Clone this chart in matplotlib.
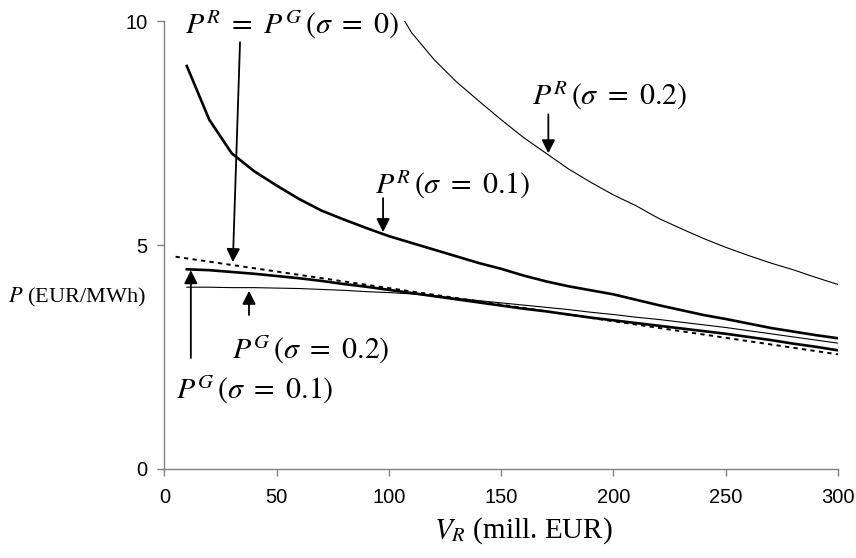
import matplotlib
matplotlib.use("Agg")
import matplotlib.pyplot as plt

plt.rcParams["mathtext.fontset"] = "stix"
plt.rcParams["font.family"] = "Liberation Sans"
plt.rcParams["xtick.labelsize"] = 14.5
plt.rcParams["ytick.labelsize"] = 14.5

# ── data ───────────────────────────────────────────────────────────────────
v_r = [10, 20, 30, 40, 50, 60, 70, 80, 90, 100,
       110, 120, 130, 140, 150, 160, 170, 180, 190, 200,
       210, 220, 230, 240, 250, 260, 270, 280, 290, 300]

pr_s01 = [9.00, 7.80, 7.05, 6.65, 6.33, 6.03, 5.77, 5.57, 5.38, 5.20,
          5.05, 4.90, 4.75, 4.60, 4.47, 4.32, 4.19, 4.08, 3.99, 3.90,
          3.78, 3.66, 3.55, 3.44, 3.35, 3.25, 3.15, 3.07, 2.99, 2.92]

pg_s01 = [4.46, 4.44, 4.40, 4.36, 4.31, 4.26, 4.20, 4.13, 4.07, 4.00,
          3.93, 3.86, 3.79, 3.72, 3.65, 3.58, 3.52, 3.45, 3.38, 3.32,
          3.26, 3.20, 3.14, 3.08, 3.02, 2.95, 2.88, 2.80, 2.73, 2.65]

pg_s02 = [4.06, 4.06, 4.05, 4.05, 4.04, 4.03, 4.01, 3.99, 3.96, 3.94,
          3.91, 3.87, 3.81, 3.76, 3.71, 3.66, 3.61, 3.56, 3.50, 3.45,
          3.39, 3.34, 3.28, 3.22, 3.16, 3.09, 3.02, 2.95, 2.88, 2.81]

v_r_hi = [100, 110, 120, 130, 140, 150, 160, 170, 180, 190, 200,
          210, 220, 230, 240, 250, 260, 270, 280, 290, 300]
pr_s02 = [10.60, 9.75, 9.15, 8.65, 8.22, 7.80, 7.40, 7.05, 6.70, 6.40, 6.12,
          5.88, 5.60, 5.37, 5.15, 4.95, 4.77, 4.60, 4.45, 4.28, 4.12]

v_r_0 = [5, 50, 100, 150, 200, 250, 300]
p_s0 = [4.74, 4.41, 4.04, 3.67, 3.30, 2.93, 2.56]

x_ticks = [0, 50, 100, 150, 200, 250, 300]
y_ticks = [0, 5, 10]

# ── figure ─────────────────────────────────────────────────────────────────
fig = plt.figure(figsize=(8.56, 5.58), dpi=100)
ax = fig.add_axes([0.192, 0.1595, 0.787, 0.8025])

ax.plot(v_r_0, p_s0, color="black", lw=1.4, ls=(0, (2.2, 2.2)))
ax.plot(v_r, pg_s02, color="black", lw=0.8)
ax.plot(v_r, pg_s01, color="black", lw=1.9)
ax.plot(v_r, pr_s01, color="black", lw=1.9)
ax.plot(v_r_hi, pr_s02, color="black", lw=0.8)

ax.set_xlim(0, 300)
ax.set_ylim(0, 10)
ax.set_xticks(x_ticks)
ax.set_yticks(y_ticks)

for side in ("top", "right"):
    ax.spines[side].set_visible(False)
for side in ("left", "bottom"):
    ax.spines[side].set_color("#808080")
    ax.spines[side].set_linewidth(1.0)
ax.tick_params(axis="both", colors="#808080", labelcolor="black",
               length=5, width=1.0)
ax.tick_params(axis="x", pad=9)
ax.tick_params(axis="y", pad=7)

# ── annotations ────────────────────────────────────────────────────────────
txt_kw = dict(fontsize=21.5, ha="left", va="baseline", family="Liberation Serif")
ax.text(9.1, 9.73, r"$P^{R}\ =\ P^{G}\,(\sigma\ =\ 0)$", **txt_kw)
ax.text(93.8, 6.16, r"$P^{R}\,(\sigma\ =\ 0.1)$", **txt_kw)
ax.text(163.9, 8.13, r"$P^{R}\,(\sigma\ =\ 0.2)$", **txt_kw)
ax.text(30.1, 2.46, r"$P^{G}\,(\sigma\ =\ 0.2)$", **txt_kw)
ax.text(5.1, 1.58, r"$P^{G}\,(\sigma\ =\ 0.1)$", **txt_kw)

arr = dict(arrowstyle="-|>", color="black", lw=1.3, mutation_scale=20,
           shrinkA=0, shrinkB=0)
arrows = [((33.7, 9.53), (30.5, 4.62)),
          ((97.4, 6.05), (97.4, 5.29)),
          ((171.0, 7.92), (171.0, 7.05)),
          ((37.7, 3.44), (37.7, 3.98)),
          ((11.8, 2.48), (11.8, 4.44))]
for tail, tip in arrows:
    ax.annotate("", xy=tip, xytext=tail, arrowprops=arr)

# ── axis labels ────────────────────────────────────────────────────────────
fig.text(8 / 856, 1 - 297 / 558, r"$P$ (EUR/MWh)", fontsize=16,
         family="Liberation Serif", ha="left", va="center")
fig.text(523 / 856, 1 - 531 / 558, r"$V_R$ (mill. EUR)", fontsize=21,
         family="Liberation Serif", ha="center", va="center")

fig.savefig("out.png", dpi=100)
